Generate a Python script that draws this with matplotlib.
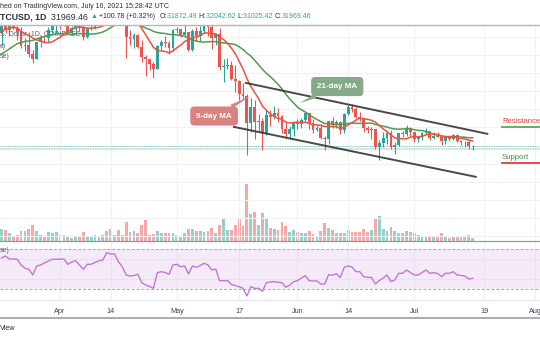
import numpy as np
import pandas as pd
import matplotlib
matplotlib.use('Agg')
import matplotlib.pyplot as plt
import matplotlib.dates as mdates

plt.rcParams['font.family'] = ['Liberation Sans', 'DejaVu Sans']

# daily closes in k USD, Feb 24 - Jul 16 2021 (first 21 only feed the moving averages)
closes = [49.7, 47.0, 46.3, 46.2, 45.2, 49.6, 48.4, 50.5, 48.4, 48.8, 48.9, 51.0, 52.4, 54.9, 55.9,
          57.8, 57.3, 61.2, 59.0, 55.6, 56.9,
          # Mar 17 - 31
          58.9, 57.6, 58.8, 58.2, 57.3, 54.1, 54.4, 52.3, 51.3, 55.0, 55.86, 55.78, 57.6, 58.75, 58.9,
          # Apr
          58.7, 59.0, 57.1, 58.2, 59.1, 58.0, 56.0, 58.1, 58.1, 59.8, 59.9, 59.8, 63.5, 62.9, 63.2,
          61.4, 60.1, 56.2, 55.7, 56.5, 53.8, 51.7, 51.2, 50.1, 49.0, 54.0, 55.0, 54.8, 53.6, 57.7,
          # May
          57.8, 56.6, 57.2, 53.2, 57.5, 56.4, 57.4, 58.9, 58.3, 55.8, 56.7, 49.5, 49.7, 49.9, 46.8,
          46.4, 43.5, 42.9, 37.0, 40.6, 37.3, 37.5, 34.7, 38.8, 38.4, 39.3, 38.5, 35.7, 34.6, 35.7, 37.3,
          # Jun
          36.7, 37.6, 39.2, 36.9, 35.5, 35.8, 33.6, 33.4, 37.4, 36.7, 37.3, 35.5, 39.1, 40.5, 40.2,
          38.3, 38.1, 35.8, 35.5, 35.6, 31.7, 32.5, 33.7, 34.7, 31.6, 32.2, 34.7, 34.5, 35.9, 35.0,
          # Jul
          33.5, 33.8, 34.7, 35.3, 33.7, 34.2, 33.9, 32.9, 33.8, 33.5, 34.3, 33.1, 32.7, 32.8, 31.87, 31.97]

# Mar 17 - Jul 16
highs = [59.0, 60.0, 59.4, 59.8, 58.6, 58.4, 55.8, 57.2, 53.2, 55.1, 56.6, 56.6, 58.4, 59.4, 59.8,
         59.5, 60.2, 59.9, 58.5, 59.3, 59.5, 58.7, 58.2, 58.9, 61.2, 60.7, 61.4, 63.8, 64.9, 63.8,
         63.6, 62.6, 61.0, 57.6, 57.1, 56.8, 55.4, 52.1, 51.2, 50.5, 54.4, 55.4, 56.4, 55.2, 57.9,
         58.4, 57.9, 58.9, 57.2, 57.9, 58.4, 58.6, 59.5, 59.3, 59.6, 56.9, 58.0, 51.3, 51.4, 50.7,
         49.8, 46.6, 45.8, 43.5, 42.5, 42.2, 38.9, 38.2, 39.8, 39.8, 40.8, 40.4, 38.8, 37.3, 36.4, 37.5,
         37.8, 38.2, 39.5, 39.3, 37.9, 36.5, 36.8, 34.0, 37.5, 38.4, 37.7, 37.4, 39.3, 41.0, 41.3,
         40.5, 39.5, 38.2, 36.4, 36.1, 35.7, 33.3, 34.9, 35.2, 35.5, 32.7, 34.7, 35.3, 36.6, 36.1,
         35.0, 33.9, 34.9, 35.9, 35.3, 35.0, 35.0, 33.9, 34.0, 34.2, 34.6, 34.6, 33.3, 33.1, 33.2, 32.04]
lows = [54.1, 57.0, 56.3, 57.8, 55.5, 53.7, 53.0, 51.7, 50.4, 51.3, 53.9, 54.7, 54.9, 57.0, 56.9,
        57.9, 58.5, 56.9, 56.5, 56.8, 57.4, 55.5, 55.8, 57.7, 57.9, 59.4, 59.7, 59.8, 61.3, 62.0,
        60.0, 59.7, 51.5, 54.3, 53.6, 53.6, 50.6, 47.5, 48.8, 47.0, 48.9, 53.3, 53.9, 52.4, 53.1,
        57.0, 56.0, 56.5, 53.0, 52.9, 55.3, 55.3, 56.9, 56.3, 53.5, 54.4, 48.7, 46.1, 48.9, 46.6,
        43.9, 42.1, 42.3, 30.0, 35.0, 33.5, 35.3, 31.1, 34.4, 36.4, 37.8, 37.2, 34.7, 33.7, 33.4, 34.2,
        35.7, 35.9, 37.2, 35.6, 34.8, 35.3, 33.4, 31.0, 32.4, 35.8, 35.8, 34.6, 34.8, 38.8, 39.5,
        38.1, 37.5, 35.1, 34.8, 33.4, 31.3, 28.8, 31.7, 32.3, 31.3, 30.2, 32.0, 33.9, 34.2, 34.0,
        32.7, 32.7, 33.3, 34.4, 33.2, 33.5, 33.8, 32.1, 32.3, 33.1, 33.3, 32.7, 32.2, 31.6, 31.2, 31.03]

volumes = [35, 30, 23, 15, 18, 28, 28, 35, 45, 27, 18, 15, 25, 22, 25, 18, 18, 13, 8, 15,
           15, 25, 13, 13, 18, 12, 18, 27, 33, 18, 30, 18, 54, 25, 27, 23, 45, 58, 18, 20,
           27, 22, 23, 23, 23, 17, 12, 22, 35, 35, 27, 27, 25, 27, 37, 23, 45, 62, 32, 32,
           45, 65, 43, 160, 75, 83, 45, 80, 65, 38, 35, 30, 55, 42, 25, 30, 25, 22, 22, 28,
           20, 14, 28, 52, 38, 30, 23, 23, 23, 32, 26, 26, 25, 35, 26, 30, 62, 70, 35, 27,
           40, 27, 22, 22, 27, 25, 22, 18, 10, 10, 15, 15, 15, 22, 15, 8, 12, 15, 15, 15, 18, 8]

rsi_vals = [61, 63, 60, 60, 59.7, 54, 50.7, 49.7, 44, 53,
            54, 56, 58, 59.7, 59.7, 59.8, 60, 54.7, 57, 58.3,
            54, 49.7, 54.7, 54.7, 56.5, 58.3, 59, 66.3, 65, 65,
            57.3, 52.3, 44, 43, 43.5, 44.7, 36.3, 34, 32.5, 30.7,
            46.3, 47.3, 46.5, 44.7, 54, 54.7, 52.3, 53, 45, 53,
            51.7, 53.5, 55.7, 54, 49, 50, 38.3, 38.3, 38.5, 34.7,
            33.5, 32.3, 30.7, 23, 32.3, 30.7, 30.7, 27.7, 36.3, 37,
            37.3, 36.8, 36.3, 31.7, 34, 37.3, 38.3, 41, 43.3, 38.3,
            38, 38, 35, 35, 44.3, 43.7, 45.3, 41.3, 51.7, 53,
            52, 47.3, 47.3, 42.3, 41.7, 41.5, 35, 38.3, 41, 44,
            37.3, 39, 45.7, 45.7, 49, 46.5, 44, 44, 46.5, 49,
            45.7, 46.3, 45.5, 42.3, 45.7, 45.7, 47.3, 44, 43.5, 43,
            40, 40.7]

tick_dates = ['2021-04-01', '2021-04-14', '2021-05-01', '2021-05-17', '2021-06-01',
              '2021-06-14', '2021-07-01', '2021-07-19', '2021-08-01']
tick_labels = ['Apr', '14', 'May', '17', 'Jun', '14', 'Jul', '19', 'Aug']

# channel drawn on the chart: (date, price)
chan_upper = [('2021-05-18 12:00', 45950), ('2021-07-20', 34550)]
chan_lower = [('2021-05-15 10:00', 36180), ('2021-07-17', 25000)]
resistance_level = 36100
support_level = 28100
zone_level = 31200
last_price = 31969.46

UP, DOWN = '#26a69a', '#ef5350'
W, H = 540, 340

all_dates = pd.date_range('2021-02-24', '2021-07-16')
close_s = pd.Series(closes, index=all_dates) * 1000
ma9 = close_s.rolling(9).mean()
ma21 = close_s.rolling(21).mean()
opens_s = close_s.shift(1)

vis = all_dates >= '2021-03-17'
dates = all_dates[vis]
x = mdates.date2num(dates)
o = opens_s[vis].values
c = close_s[vis].values
h = np.maximum(np.array(highs) * 1000, np.maximum(o, c))
l = np.minimum(np.array(lows) * 1000, np.minimum(o, c))
up = c >= o
cols = np.where(up, UP, DOWN)

fig = plt.figure(figsize=(W / 100, H / 100), dpi=100)

def fy(py):
    return 1 - py / H

def dnum(s):
    return mdates.date2num(pd.Timestamp(s))

ax = fig.add_axes([0, fy(241), 1, (241 - 25) / H])
rax = fig.add_axes([0, fy(300), 1, (300 - 241) / H], sharex=ax)
vax = ax.twinx()
vax.set_zorder(ax.get_zorder() - 1)
ax.patch.set_visible(False)

xlim = (dnum('2021-03-16 14:00'), dnum('2021-08-02 07:00'))

# volume
vax.bar(x, volumes, width=0.72, color=cols, alpha=0.5, linewidth=0)
vax.set_ylim(0, 610)
vax.axis('off')

# grid
grid_c = '#eef1f6'
for p in range(12000, 58000, 4000):
    ax.axhline(p, color=grid_c, lw=0.8, zorder=0)
for td in tick_dates:
    ax.axvline(dnum(td), color=grid_c, lw=0.8, zorder=0)
    rax.axvline(dnum(td), color=grid_c, lw=0.8, zorder=0)

# candles
ax.vlines(x, l, h, colors=cols, lw=0.8, zorder=2)
body = np.where(np.abs(c - o) < 80, 80, np.abs(c - o))
ax.bar(x, body, bottom=np.minimum(o, c), width=0.72, color=cols, linewidth=0, zorder=3)

# moving averages
ax.plot(mdates.date2num(all_dates), ma21.values, color='#4e9c4e', lw=1.1, zorder=4)
ax.plot(mdates.date2num(all_dates), ma9.values, color='#f0513f', lw=1.1, zorder=4)

# price lines
ax.axhline(zone_level, color='#d5ead3', lw=1.4, zorder=1)
ax.axhline(last_price, color='#5bb8c8', lw=0.7, ls=(0, (1, 1.5)), zorder=1)

# channel
for seg in (chan_upper, chan_lower):
    ax.plot([dnum(d) for d, _ in seg], [p for _, p in seg],
            color='#353535', lw=1.4, alpha=0.9, zorder=5, solid_capstyle='butt')

# callouts
ax.annotate('9-day MA', xy=(dnum('2021-05-19 18:00'), 42900),
            xytext=(dnum('2021-05-10 14:00'), 38550),
            color='white', fontsize=5.8, fontweight='bold', ha='center', va='center', zorder=6,
            bbox=dict(boxstyle='round,pad=0.75,rounding_size=0.5', fc='#d98282', ec='none'),
            arrowprops=dict(arrowstyle='wedge,tail_width=0.5', fc='#d98282', ec='none',
                            shrinkA=0, shrinkB=0))
ax.annotate('21-day MA', xy=(dnum('2021-06-01 10:00'), 41400),
            xytext=(dnum('2021-06-11 05:00'), 45100),
            color='white', fontsize=5.8, fontweight='bold', ha='center', va='center', zorder=6,
            bbox=dict(boxstyle='round,pad=0.75,rounding_size=0.5', fc='#86aa86', ec='none'),
            arrowprops=dict(arrowstyle='wedge,tail_width=0.5', fc='#86aa86', ec='none',
                            shrinkA=0, shrinkB=0))

# resistance / support labels
lx0 = dnum('2021-07-23 12:00')
ax.plot([lx0, xlim[1]], [resistance_level] * 2, color='#4caf50', lw=1.3, zorder=6)
ax.text(lx0, resistance_level + 500, 'Resistance', color='#e0403a', fontsize=5.5,
        ha='left', va='bottom', zorder=6)
ax.plot([lx0, xlim[1]], [support_level] * 2, color='#e0403a', lw=1.3, zorder=6)
ax.text(lx0, support_level + 500, 'Support', color='#3f8f3f', fontsize=5.6,
        ha='left', va='bottom', zorder=6)

# legend leftovers
leg_c = '#5d606b'
ax.text(0.0, fy(34), 'S. Dollar, 1D, COINBASE', transform=fig.transFigure, fontsize=5,
        color=leg_c, va='center', ha='left')
ax.text(0.0, fy(46), 'e)', transform=fig.transFigure, fontsize=5, color=leg_c, va='center')
ax.text(0.0, fy(57), 'se)', transform=fig.transFigure, fontsize=5, color=leg_c, va='center')

ax.set_xlim(*xlim)
ax.set_ylim(10780, 58775)
ax.tick_params(left=False, labelleft=False, bottom=False, labelbottom=False)
for s in ax.spines.values():
    s.set_visible(False)

# RSI pane
rax.axhspan(30, 70, color='#b36ad0', alpha=0.13, lw=0, zorder=0)
for lv in (40, 60):
    rax.axhline(lv, color='#e6e3ee', lw=0.8, zorder=0)
for lv in (30, 70):
    rax.axhline(lv, color='#a9a9b3', lw=0.7, ls=(0, (3, 2)), zorder=1)
rax.plot(x, rsi_vals, color='#c077d6', lw=1.0, zorder=3)
rax.set_ylim(19, 78)
rax.set_xticks([dnum(t) for t in tick_dates])
rax.set_xticklabels(tick_labels)
rax.tick_params(left=False, labelleft=False, length=0, pad=5.5, labelsize=5.2, labelcolor='#3f424d')
for s in rax.spines.values():
    s.set_visible(False)
rax.text(0.0, fy(250), 'se)', transform=fig.transFigure, fontsize=5, color=leg_c, va='center')

# frame lines
for py, col, lw in ((25, '#b2b5be', 1.0), (241, '#9598a1', 0.9), (300, '#e0e3eb', 0.8), (318, '#9a9da6', 1.2)):
    fig.add_artist(plt.Line2D([0, 1], [fy(py)] * 2, transform=fig.transFigure, color=col, lw=lw))

# header
txt_c = '#2a2e39'
fig.text(0.0, fy(7), 'hed on TradingView.com, July 16, 2021 15:28:42 UTC', fontsize=5,
         color=txt_c, va='center', ha='left')
parts = [('TCUSD, 1D  ', txt_c, 'bold', 6.3), ('31969.46 ', txt_c, 'normal', 6.3),
         ('\u25b2', UP, 'normal', 5), (' +100.78 (+0.32%)  ', txt_c, 'normal', 5),
         ('O:', txt_c, 'normal', 5), ('31872.49 ', UP, 'normal', 5),
         ('H:', txt_c, 'normal', 5), ('32042.62 ', UP, 'normal', 5),
         ('L:', txt_c, 'normal', 5), ('31025.42 ', UP, 'normal', 5),
         ('C:', txt_c, 'normal', 5), ('31969.46', UP, 'normal', 5)]
t = fig.text(0.0, fy(17), parts[0][0], fontsize=parts[0][3], color=parts[0][1],
             fontweight=parts[0][2], va='center', ha='left')
for s, col, wgt, fs in parts[1:]:
    t = ax.annotate(s, xy=(1, 0.5), xycoords=t, va='center', ha='left', fontsize=fs,
                    color=col, fontweight=wgt, annotation_clip=False)

fig.text(0.0, fy(329), 'View', fontsize=5.2, color=txt_c, va='center', ha='left')

fig.savefig('out.png', dpi=100)
